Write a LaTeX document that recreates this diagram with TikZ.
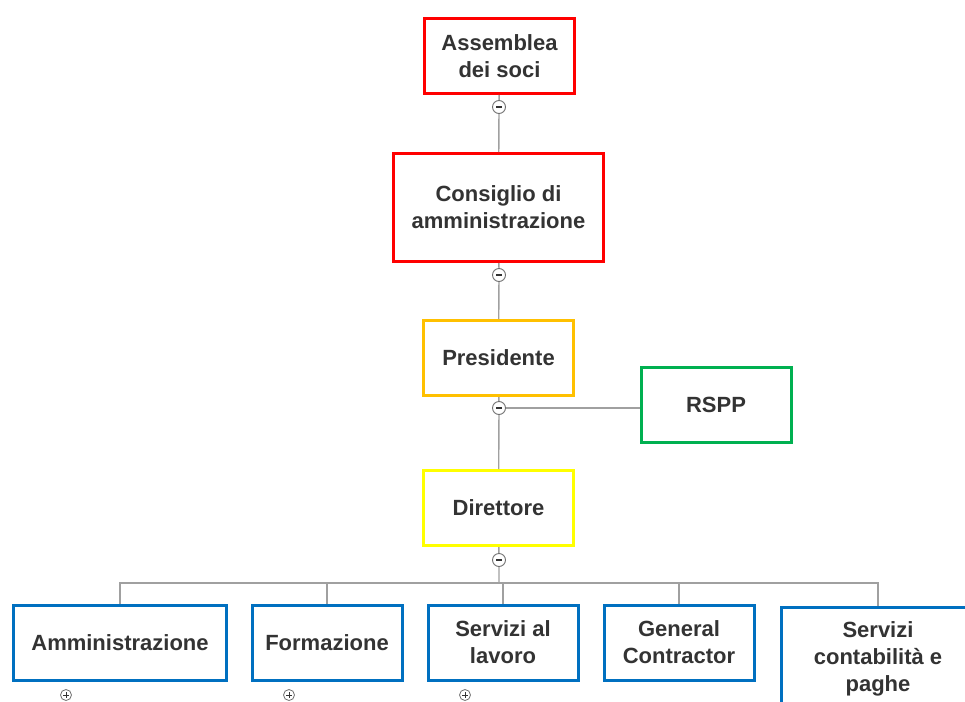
\documentclass[tikz,border=0pt]{standalone}
\usepackage{fontspec}
\setmainfont{Liberation Sans}
\usepackage{tikz}
\usetikzlibrary{positioning,calc}
\usepackage{xcolor}
\definecolor{boardred}{RGB}{255,0,0}
\definecolor{presorange}{RGB}{255,192,0}
\definecolor{rsppgreen}{RGB}{0,176,80}
\definecolor{diryellow}{RGB}{255,255,0}
\definecolor{unitblue}{RGB}{0,112,192}
\definecolor{linkgrey}{RGB}{160,160,160}
\definecolor{txtgrey}{RGB}{51,51,51}

\begin{document}
\begin{tikzpicture}[x=1pt, y=-1pt,
    font=\fontsize{22}{27}\selectfont\bfseries, text=txtgrey,
    b/.style={rectangle, line width=3pt, fill=white, inner sep=0pt,
              minimum width=150pt, minimum height=75pt, align=center},
    conn/.style={draw=linkgrey, line width=1.4pt},
    minus/.style={circle, draw=txtgrey!70, line width=0.9pt, fill=white, inner sep=0pt,
                  minimum size=13pt, font=\tiny,
                  path picture={\draw[txtgrey, line width=1.3pt]
                    ([xshift=-3pt]path picture bounding box.center) --
                    ([xshift=3pt]path picture bounding box.center);}},
    plus/.style={circle, draw=txtgrey!70, line width=0.8pt, fill=white, inner sep=0pt,
                 minimum size=11pt, font=\tiny,
                 path picture={\draw[txtgrey, line width=1pt]
                   ([xshift=-2.6pt]path picture bounding box.center) --
                   ([xshift=2.6pt]path picture bounding box.center)
                   ([yshift=-2.6pt]path picture bounding box.center) --
                   ([yshift=2.6pt]path picture bounding box.center);}}]
\clip (0,0) rectangle (965,701);

% governance
\node[b, draw=boardred] (ass) at (499.5,56) {Assemblea\\dei soci};
\node[b, draw=boardred, minimum width=210pt, minimum height=108pt] (cda) at (498.5,207.5) {Consiglio di\\amministrazione};
\node[b, draw=presorange] (pres) at (498.5,358) {Presidente};
\node[b, draw=rsppgreen] (rspp) at (716,405) {RSPP};
\node[b, draw=diryellow] (dir) at (498.5,508) {Direttore};

% units
\node[b, draw=unitblue, minimum width=213pt] (amm) at (120,643) {Amministrazione};
\node[b, draw=unitblue] (form) at (327,642.5) {Formazione};
\node[b, draw=unitblue] (serv) at (503,642.5) {Servizi al\\lavoro};
\node[b, draw=unitblue] (gc) at (679,642.5) {General\\Contractor};
\node[b, draw=unitblue, minimum width=194pt, minimum height=104pt] (paghe) at (878,659) {Servizi\\contabilità e\\paghe};

% collapse markers (positions)
\coordinate (m1) at (499,107);
\coordinate (m2) at (499,275);
\coordinate (m3) at (499,408);
\coordinate (m4) at (499,560);
\coordinate (bus) at (499,583);

% links
\draw[conn] (ass) -- (m1) -- (cda);
\draw[conn] (cda) -- (m2) -- (pres);
\draw[conn] (pres) -- (m3) -- (dir);
\draw[conn] (m3) -- (m3 -| rspp.west);
\draw[conn] (dir) -- (m4) -- (bus);
\foreach \u in {amm,form,serv,gc,paghe}
  \draw[conn] (bus) -| (\u.north);

% markers on top of the links
\foreach \m in {m1,m2,m3,m4}
  \node[minus] at (\m) {};

% expand markers
\node[plus] (p1) at (66,695) {};
\node[plus] (p2) at (289,695) {};
\node[plus] (p3) at (465,695) {};
\end{tikzpicture}
\end{document}
